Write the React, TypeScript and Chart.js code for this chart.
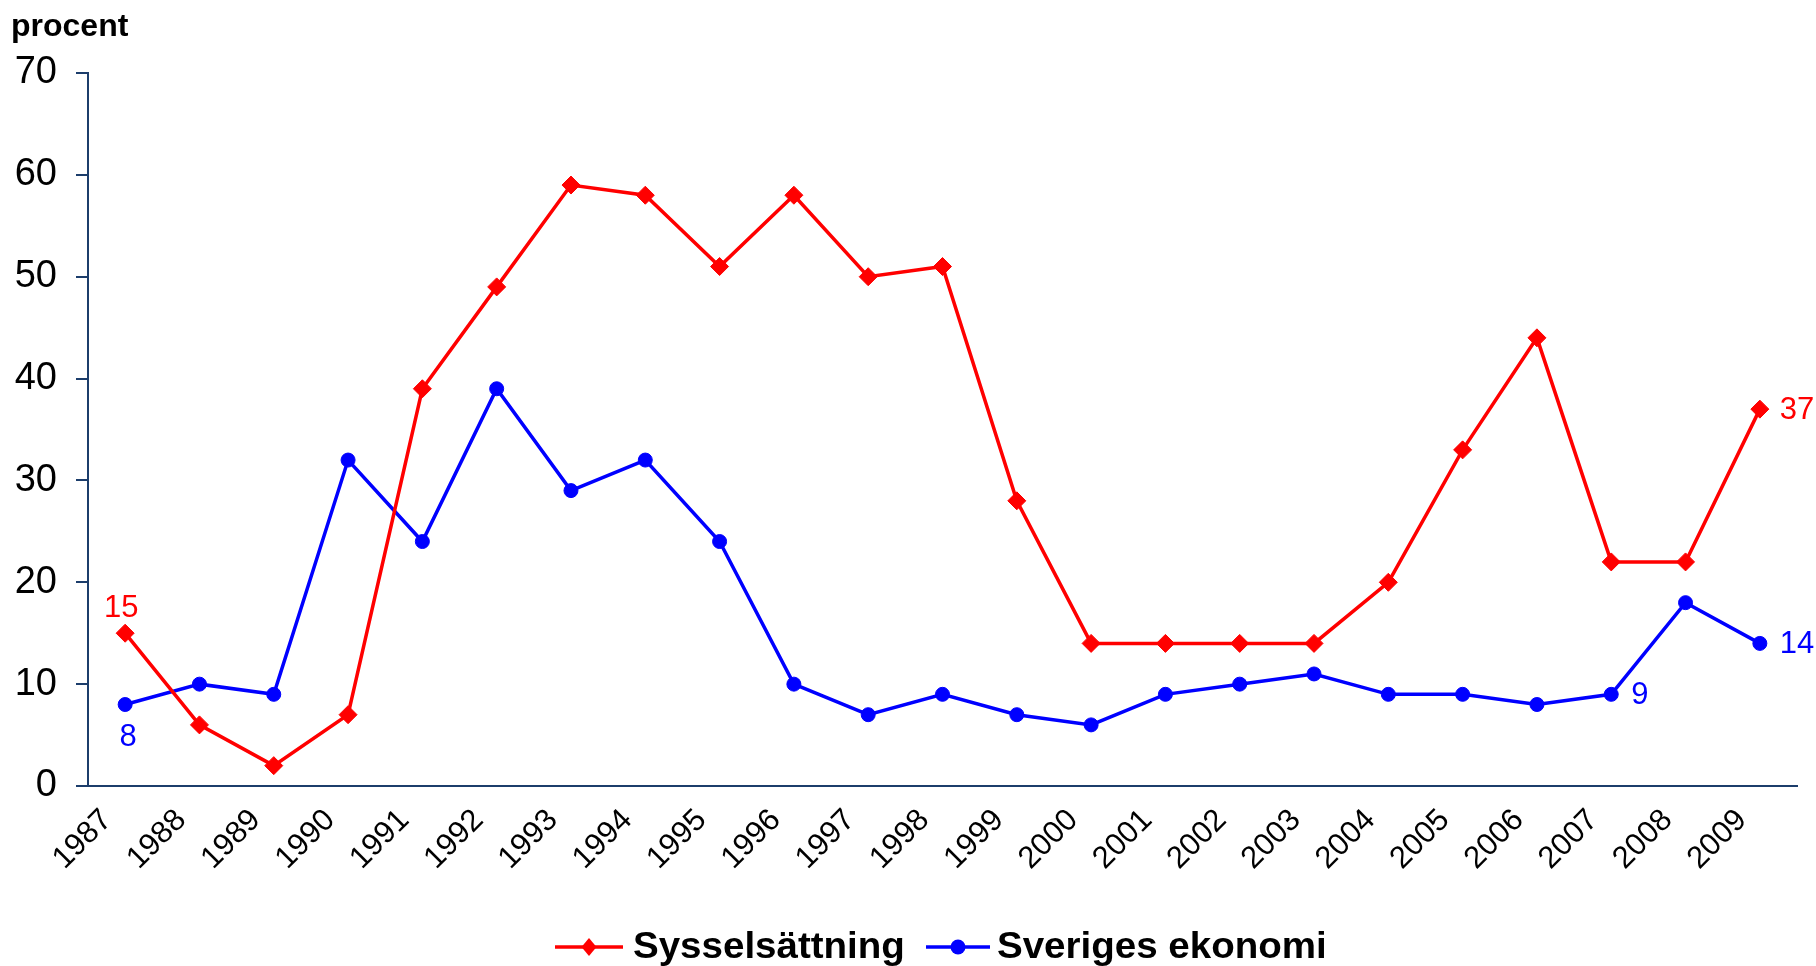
import { useEffect, useRef } from 'react';
import { Chart, registerables } from 'chart.js';

Chart.register(...registerables);

const years = ['1987', '1988', '1989', '1990', '1991', '1992', '1993', '1994', '1995', '1996', '1997', '1998', '1999', '2000', '2001', '2002', '2003', '2004', '2005', '2006', '2007', '2008', '2009'];
const sysselsattning = [15, 6, 2, 7, 39, 49, 59, 58, 51, 58, 50, 51, 28, 14, 14, 14, 14, 20, 33, 44, 22, 22, 37];
const sverigesEkonomi = [8, 10, 9, 32, 24, 39, 29, 32, 24, 10, 7, 9, 7, 6, 9, 10, 11, 9, 9, 8, 9, 18, 14];
const seriesNames = ['Sysselsättning', 'Sveriges ekonomi'];
const seriesColors = ['#ff0000', '#0000ff'];
const yAxisTitle = 'procent';
const yMin = 0;
const yMax = 70;
const yStep = 10;

// which points carry a value label, and where it sits
const valueLabels = [
  { ds: 0, i: 0, place: 'above' },
  { ds: 0, i: 22, place: 'right' },
  { ds: 1, i: 0, place: 'below' },
  { ds: 1, i: 20, place: 'right' },
  { ds: 1, i: 22, place: 'right' },
];

const FONT = "'Liberation Sans', Arial, Helvetica, sans-serif";
const AXIS = '#1c3d6b';

const decorPlugin = {
  id: 'decor',
  afterDatasetsDraw(chart: any) {
    const ctx = chart.ctx;
    ctx.save();
    ctx.font = `31px ${FONT}`;
    valueLabels.forEach((l) => {
      const el = chart.getDatasetMeta(l.ds).data[l.i];
      const v = chart.data.datasets[l.ds].data[l.i];
      ctx.fillStyle = seriesColors[l.ds];
      ctx.textBaseline = 'middle';
      if (l.place === 'above') {
        ctx.textAlign = 'center';
        ctx.fillText(String(v), el.x - 4, el.y - 25);
      } else if (l.place === 'below') {
        ctx.textAlign = 'center';
        ctx.fillText(String(v), el.x + 3, el.y + 33);
      } else {
        ctx.textAlign = 'left';
        ctx.fillText(String(v), el.x + 20, el.y + 1);
      }
    });
    ctx.restore();
  },
  afterDraw(chart: any) {
    const ctx = chart.ctx;
    ctx.save();
    // axis title
    ctx.fillStyle = '#000';
    ctx.font = `bold 32px ${FONT}`;
    ctx.textAlign = 'left';
    ctx.textBaseline = 'alphabetic';
    ctx.fillText(yAxisTitle, 11, 36);

    // legend
    const ly = 947;
    const items = [
      { x0: 555, x1: 623, tx: 633, shape: 'diamond' },
      { x0: 926, x1: 990, tx: 997, shape: 'circle' },
    ];
    items.forEach((it, k) => {
      const c = seriesColors[k];
      ctx.strokeStyle = c;
      ctx.fillStyle = c;
      ctx.lineWidth = 3.5;
      ctx.beginPath();
      ctx.moveTo(it.x0, ly);
      ctx.lineTo(it.x1, ly);
      ctx.stroke();
      const cx = (it.x0 + it.x1) / 2;
      ctx.beginPath();
      if (it.shape === 'diamond') {
        ctx.moveTo(cx, ly - 9);
        ctx.lineTo(cx + 7.5, ly);
        ctx.lineTo(cx, ly + 9);
        ctx.lineTo(cx - 7.5, ly);
        ctx.closePath();
      } else {
        ctx.arc(cx, ly, 7.5, 0, Math.PI * 2);
      }
      ctx.fill();
      ctx.save();
      ctx.fillStyle = '#000';
      ctx.font = `bold 36px ${FONT}`;
      ctx.textBaseline = 'alphabetic';
      ctx.translate(it.tx, 958);
      ctx.scale(1.07, 1);
      ctx.fillText(seriesNames[k], 0, 0);
      ctx.restore();
    });
    ctx.restore();
  },
};

export default function App() {
  const ref = useRef<HTMLCanvasElement>(null);
  useEffect(() => {
    document.body.style.margin = '0';
    const canvas = ref.current!;
    const chart = new Chart(canvas, {
      type: 'line',
      data: {
        labels: years,
        datasets: [
          {
            label: seriesNames[0],
            data: sysselsattning,
            borderColor: seriesColors[0],
            backgroundColor: seriesColors[0],
            borderWidth: 3.5,
            pointStyle: 'rectRot',
            pointRadius: 9,
            pointBorderWidth: 1,
            tension: 0,
          },
          {
            label: seriesNames[1],
            data: sverigesEkonomi,
            borderColor: seriesColors[1],
            backgroundColor: seriesColors[1],
            borderWidth: 3.5,
            pointStyle: 'circle',
            pointRadius: 7,
            pointBorderWidth: 1,
            tension: 0,
          },
        ],
      },
      options: {
        responsive: false,
        animation: false,
        devicePixelRatio: 1,
        layout: { padding: { top: 73, right: 19, left: 0, bottom: 0 } },
        plugins: {
          legend: { display: false },
          tooltip: { enabled: false },
        },
        scales: {
          x: {
            offset: true,
            grid: { display: false },
            border: { display: true, color: AXIS, width: 2 },
            ticks: {
              minRotation: 45,
              maxRotation: 45,
              autoSkip: false,
              color: '#000',
              font: { family: FONT, size: 31 },
              padding: 8,
              labelOffset: -18,
            },
            afterFit(scale: any) {
              scale.height = 180;
            },
          },
          y: {
            min: yMin,
            max: yMax,
            ticks: {
              stepSize: yStep,
              color: '#000',
              font: { family: FONT, size: 38 },
              padding: 19,
            },
            grid: {
              display: true,
              drawOnChartArea: false,
              drawTicks: true,
              tickLength: 12,
              color: AXIS,
              lineWidth: 2,
            },
            border: { display: true, color: AXIS, width: 2 },
            afterFit(scale: any) {
              scale.width = 88;
            },
          },
        },
      },
      plugins: [decorPlugin],
    });
    return () => chart.destroy();
  }, []);
  return (
    <div style={{ width: 1816, height: 966 }}>
      <canvas ref={ref} width={1816} height={966} style={{ display: 'block', width: 1816, height: 966 }} />
    </div>
  );
}
